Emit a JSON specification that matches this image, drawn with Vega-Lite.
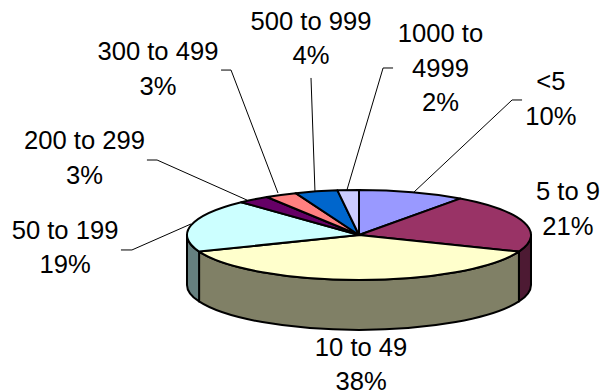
{
  "$schema": "https://vega.github.io/schema/vega-lite/v6.json",
  "width": 610,
  "height": 392,
  "padding": 0,
  "autosize": {"type": "none"},
  "background": "white",
  "view": {"stroke": null},
  "datasets": {
    "slices": [
      {"band": "<5", "label": "<5", "rank": 1, "share": 10},
      {"band": "5 to 9", "label": "5 to 9", "rank": 2, "share": 21},
      {"band": "10 to 49", "label": "10 to 49", "rank": 3, "share": 38},
      {"band": "50 to 199", "label": "50 to 199", "rank": 4, "share": 19},
      {"band": "200 to 299", "label": "200 to 299", "rank": 5, "share": 3},
      {"band": "300 to 499", "label": "300 to 499", "rank": 6, "share": 3},
      {"band": "500 to 999", "label": "500 to 999", "rank": 7, "share": 4},
      {"band": "1000 to 4999", "label": "1000 to\n4999", "rank": 8, "share": 2}
    ],
    "labelAnchors": [
      {"band": "<5", "ax": 1.116, "ay": 0.843},
      {"band": "5 to 9", "ax": 1.215, "ay": 0.203},
      {"band": "10 to 49", "ax": 0.012, "ay": -0.703},
      {"band": "50 to 199", "ax": -1.709, "ay": -0.023},
      {"band": "200 to 299", "ax": -1.596, "ay": 0.5},
      {"band": "300 to 499", "ax": -1.169, "ay": 1.017},
      {"band": "500 to 999", "ax": -0.279, "ay": 1.192},
      {"band": "1000 to 4999", "ax": 0.474, "ay": 1.122}
    ],
    "leaders": [
      {"band": "<5", "step": 1, "lx": 0.948, "ly": 0.785},
      {"band": "<5", "step": 2, "lx": 0.89, "ly": 0.785},
      {"band": "<5", "step": 3, "lx": 0.32, "ly": 0.25},
      {"band": "50 to 199", "step": 1, "lx": -1.384, "ly": -0.087},
      {"band": "50 to 199", "step": 2, "lx": -1.32, "ly": -0.087},
      {"band": "50 to 199", "step": 3, "lx": -0.977, "ly": 0.064},
      {"band": "200 to 299", "step": 1, "lx": -1.233, "ly": 0.436},
      {"band": "200 to 299", "step": 2, "lx": -1.174, "ly": 0.436},
      {"band": "200 to 299", "step": 3, "lx": -0.651, "ly": 0.203},
      {"band": "300 to 499", "step": 1, "lx": -0.802, "ly": 0.959},
      {"band": "300 to 499", "step": 2, "lx": -0.744, "ly": 0.959},
      {"band": "300 to 499", "step": 3, "lx": -0.471, "ly": 0.244},
      {"band": "500 to 999", "step": 1, "lx": -0.279, "ly": 0.913},
      {"band": "500 to 999", "step": 2, "lx": -0.256, "ly": 0.256},
      {"band": "1000 to 4999", "step": 1, "lx": 0.198, "ly": 0.971},
      {"band": "1000 to 4999", "step": 2, "lx": 0.14, "ly": 0.971},
      {"band": "1000 to 4999", "step": 3, "lx": -0.07, "ly": 0.262}
    ]
  },
  "layer": [
    {
      "data": {"name": "slices"},
      "transform": [
        {"window": [{"op": "sum", "field": "share", "as": "cum"}], "sort": [{"field": "rank", "order": "ascending"}], "frame": [null, 0]},
        {"calculate": "2 * PI * (datum.cum - datum.share) / 100", "as": "a0"},
        {"calculate": "2 * PI * datum.cum / 100", "as": "a1"},
        {"calculate": "round(100000 * sin(datum.a0)) / 100000", "as": "x0"},
        {"calculate": "round(100000 * sin(datum.a1)) / 100000", "as": "x1"},
        {"calculate": "round(-26160 * cos(datum.a0)) / 100000", "as": "y0"},
        {"calculate": "round(-26160 * cos(datum.a1)) / 100000", "as": "y1"},
        {"calculate": "'M0 0L' + datum.x0 + ' ' + datum.y0 + 'A1 0.2616 0 ' + (datum.a1 - datum.a0 > PI ? 1 : 0) + ' 1 ' + datum.x1 + ' ' + datum.y1 + 'Z'", "as": "topPath"},
        {"calculate": "max(datum.a0, PI / 2)", "as": "s0"},
        {"calculate": "min(datum.a1, 3 * PI / 2)", "as": "s1"},
        {"calculate": "round(100000 * sin(datum.s0)) / 100000", "as": "wx0"},
        {"calculate": "round(100000 * sin(datum.s1)) / 100000", "as": "wx1"},
        {"calculate": "round(-26160 * cos(datum.s0)) / 100000", "as": "wy0"},
        {"calculate": "round(-26160 * cos(datum.s1)) / 100000", "as": "wy1"},
        {"calculate": "'M' + datum.wx0 + ' ' + datum.wy0 + 'A1 0.2616 0 0 1 ' + datum.wx1 + ' ' + datum.wy1 + 'L' + datum.wx1 + ' ' + (datum.wy1 + 0.29) + 'A1 0.2616 0 0 0 ' + datum.wx0 + ' ' + (datum.wy0 + 0.29) + 'Z'", "as": "wallPath"}
      ],
      "layer": [
        {
          "transform": [{"filter": "datum.s1 > datum.s0"}],
          "mark": {"type": "point", "filled": true, "opacity": 1, "size": 118336, "stroke": "black", "strokeWidth": 2, "strokeJoin": "round"},
          "encoding": {
            "x": {"datum": 0, "type": "quantitative", "scale": {"domain": [-2.0872, 1.4593], "nice": false, "zero": false}, "axis": null},
            "y": {"datum": 0, "type": "quantitative", "scale": {"domain": [-0.9128, 1.3663], "nice": false, "zero": false}, "axis": null},
            "shape": {"field": "wallPath", "type": "nominal", "scale": null},
            "fill": {
              "field": "band",
              "type": "nominal",
              "legend": null,
              "scale": {"domain": ["5 to 9", "10 to 49", "50 to 199"], "range": ["#4D1A33", "#808066", "#668080"]}
            }
          }
        },
        {
          "mark": {"type": "point", "filled": true, "opacity": 1, "size": 118336, "stroke": "black", "strokeWidth": 2, "strokeJoin": "round"},
          "encoding": {
            "x": {"datum": 0, "type": "quantitative", "scale": {"domain": [-2.0872, 1.4593], "nice": false, "zero": false}, "axis": null},
            "y": {"datum": 0, "type": "quantitative", "scale": {"domain": [-0.9128, 1.3663], "nice": false, "zero": false}, "axis": null},
            "shape": {"field": "topPath", "type": "nominal", "scale": null},
            "fill": {
              "field": "band",
              "type": "nominal",
              "legend": null,
              "scale": {
                "domain": ["<5", "5 to 9", "10 to 49", "50 to 199", "200 to 299", "300 to 499", "500 to 999", "1000 to 4999"],
                "range": ["#9999FF", "#993366", "#FFFFCC", "#CCFFFF", "#660066", "#FF8080", "#0066CC", "#CCCCFF"]
              }
            }
          }
        }
      ],
      "resolve": {"scale": {"fill": "independent"}}
    },
    {
      "data": {"name": "leaders"},
      "mark": {"type": "line", "color": "black", "strokeWidth": 1},
      "encoding": {
        "x": {"field": "lx", "type": "quantitative", "scale": {"domain": [-2.0872, 1.4593], "nice": false, "zero": false}, "axis": null},
        "y": {"field": "ly", "type": "quantitative", "scale": {"domain": [-0.9128, 1.3663], "nice": false, "zero": false}, "axis": null},
        "detail": {"field": "band", "type": "nominal"},
        "order": {"field": "step", "type": "quantitative"}
      }
    },
    {
      "data": {"name": "labelAnchors"},
      "transform": [
        {"lookup": "band", "from": {"data": {"name": "slices"}, "key": "band", "fields": ["label", "share"]}},
        {"calculate": "datum.label + '\\n' + datum.share + '%'", "as": "caption"}
      ],
      "mark": {"type": "text", "font": "Liberation Sans", "fontSize": 25.6, "color": "black", "align": "center", "baseline": "alphabetic", "lineBreak": "\n", "lineHeight": 34.5},
      "encoding": {
        "x": {"field": "ax", "type": "quantitative", "scale": {"domain": [-2.0872, 1.4593], "nice": false, "zero": false}, "axis": null},
        "y": {"field": "ay", "type": "quantitative", "scale": {"domain": [-0.9128, 1.3663], "nice": false, "zero": false}, "axis": null},
        "text": {"field": "caption", "type": "nominal"}
      }
    }
  ]
}
